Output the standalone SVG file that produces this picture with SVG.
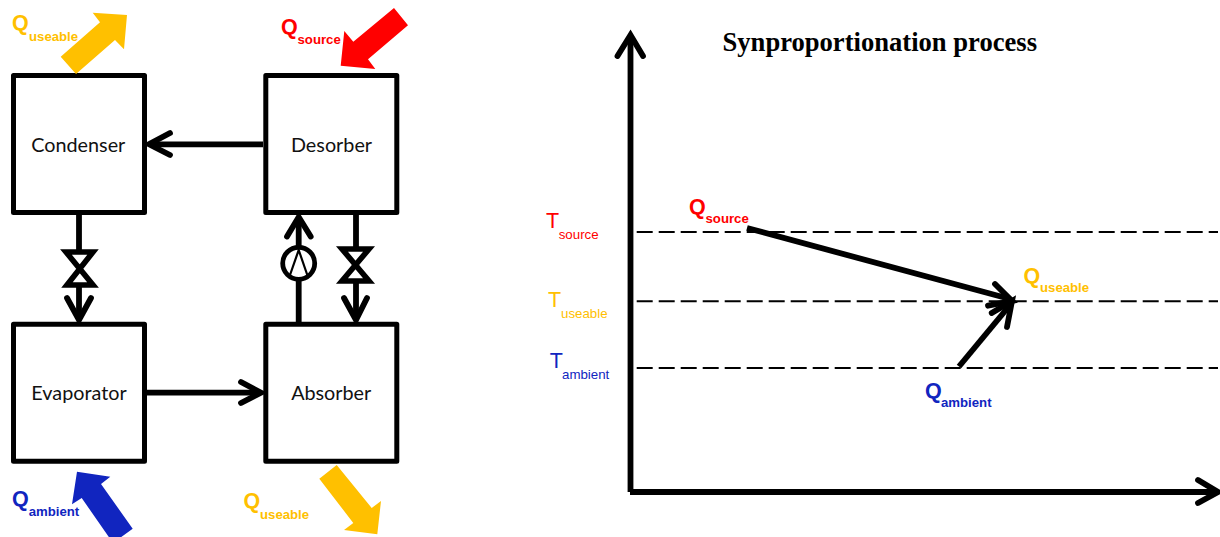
<svg xmlns="http://www.w3.org/2000/svg" width="1220" height="537" viewBox="0 0 1220 537">
<style>
.box{fill:#fff;stroke:#000;stroke-width:5;stroke-linejoin:round}
.name{font-family:"Lato","Liberation Sans",sans-serif;font-size:19.8px;fill:#111;text-anchor:middle}
.line,.head{fill:none;stroke:#000;stroke-width:5.8}
.head{stroke-linecap:round;stroke-linejoin:miter}
.valve{fill:none;stroke:#000;stroke-width:5.6;stroke-linejoin:miter}
.axis{fill:none;stroke:#000;stroke-width:5.8}
.dash{fill:none;stroke:#000;stroke-width:2;stroke-dasharray:16 6}
.q{font-family:"Liberation Sans",Arial,sans-serif;font-weight:700;font-size:21.5px}
.qs{font-family:"Liberation Sans",Arial,sans-serif;font-weight:700;font-size:13.2px}
.t{font-family:"Liberation Sans",Arial,sans-serif;font-size:21.5px}
.ts{font-family:"Liberation Sans",Arial,sans-serif;font-size:13.3px}
.y{fill:#FFC000}.r{fill:#FF0000}.b{fill:#1125BF}
.title{font-family:"Liberation Serif","Times New Roman",serif;font-weight:700;font-size:26.6px;fill:#000}
</style>
<rect width="1220" height="537" fill="#fff"/>
<g id="connectors">
<path class="line" d="M263 144.3H150"/><path class="head" d="M170 133L149 144.3L170 155"/>
<path class="line" d="M147 392.7H260"/><path class="head" d="M241 382L261 392.7L241 403"/>
<path class="line" d="M79 215V252M79 285V319"/><path class="head" d="M67 298L79 320L91 298"/>
<path class="valve" d="M66 252H93L67 285H93Z"/>
<path class="line" d="M356 215V248M356 281V319"/><path class="head" d="M344 298L356 320L367 298"/>
<path class="valve" d="M342 249H369L342 281H369Z"/>
<path class="line" d="M298.7 322V280M298.7 247V218"/><path class="head" d="M287 236.5L298.7 217L310.7 236.5"/>
<circle cx="298.7" cy="263.3" r="16" fill="none" stroke="#000" stroke-width="4.8"/>
<path d="M290 275L298.7 250L307.3 275" fill="none" stroke="#000" stroke-width="2.2"/>
</g>
<g id="condenser"><rect class="box" x="13.5" y="75.5" width="131" height="137"/><text class="name" x="78.3" y="152">Condenser</text></g>
<g id="desorber"><rect class="box" x="265.8" y="75.5" width="131" height="137"/><text class="name" x="331.5" y="152">Desorber</text></g>
<g id="evaporator"><rect class="box" x="13.5" y="324.3" width="131" height="137"/><text class="name" x="79" y="400.3">Evaporator</text></g>
<g id="absorber"><rect class="box" x="265.8" y="324.3" width="131" height="137"/><text class="name" x="331.2" y="400.3">Absorber</text></g>
<g id="heat-arrows">
<polygon class="y" points="60.7,56.7 100,22.3 92.7,12.7 127,15 124,49.3 115,40 76,74"/>
<polygon class="r" points="394,8 408,25.3 368,59.3 375.3,69 340.7,65.7 344.3,31 353.3,41.7"/>
<polygon class="b" points="77,471.7 110.3,476.7 101,484 132.7,528.7 113,543 81.7,498 72,504.3"/>
<polygon class="y" points="336.7,465 371.7,508 381,501 377.3,534.3 344,530 353.3,523 319.3,478.7"/>
</g>
<g id="labels-left">
<text class="q y" x="12" y="29.7">Q</text><text class="qs y" x="29" y="41">useable</text>
<text class="q r" x="281" y="33.7">Q</text><text class="qs r" x="297.5" y="44">source</text>
<text class="q b" x="12" y="505.7">Q</text><text class="qs b" x="28.7" y="515.5">ambient</text>
<text class="q y" x="243.5" y="508.2">Q</text><text class="qs y" x="260" y="519">useable</text>
</g>
<g id="chart">
<text class="title" x="722.5" y="51">Synproportionation process</text>
<path class="dash" d="M636.7 232H1218M636.7 301.3H1218M636.7 368H1218"/>
<path class="axis" d="M630.5 492V36"/><path class="head" d="M617.5 56L630.5 35L643 56"/>
<path class="axis" d="M630 492H1216"/><path class="head" d="M1198 480L1218 492L1198 503"/>
<path class="line" d="M747 228L1010 299"/><path class="head" d="M995 284L1012 301L988 305.7"/>
<path class="line" d="M959 366.5L1010 305"/><path class="head" d="M991.7 313L1012 301L1007 327"/>
<text class="t r" x="546" y="228">T</text><text class="ts r" x="558.7" y="239">source</text>
<text class="t y" x="548" y="307">T</text><text class="ts y" x="561" y="317.5">useable</text>
<text class="t b" x="549.7" y="368">T</text><text class="ts b" x="562" y="379">ambient</text>
<text class="q r" x="689" y="213.5">Q</text><text class="qs r" x="705.5" y="223">source</text>
<text class="q y" x="1023.5" y="282.5">Q</text><text class="qs y" x="1040" y="292">useable</text>
<text class="q b" x="925" y="397.5">Q</text><text class="qs b" x="941" y="407">ambient</text>
</g>
</svg>
